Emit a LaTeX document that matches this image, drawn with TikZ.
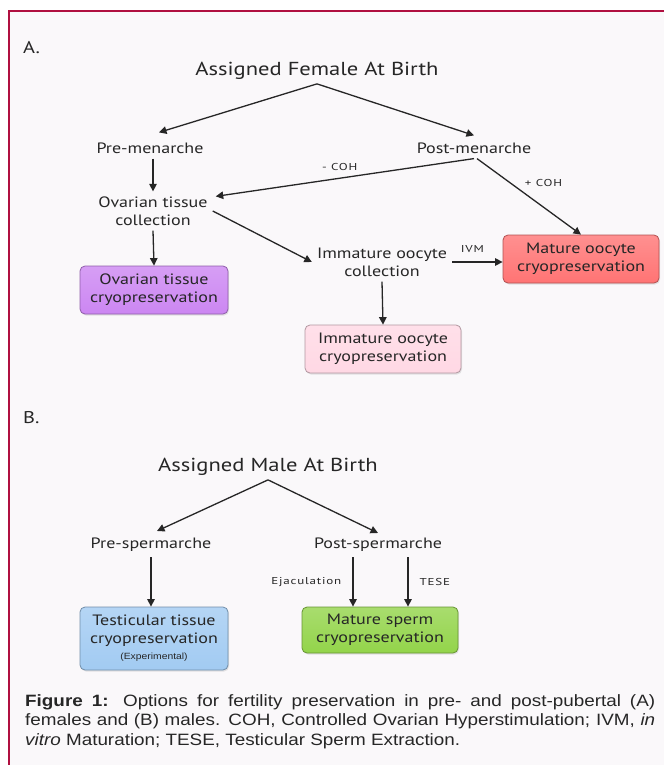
\documentclass[tikz,border=0pt]{standalone}
\usepackage{fontspec}
\usetikzlibrary{arrows.meta,shadows}
\newfontfamily\diagfont{PT Sans}[FakeStretch=1.2]
\newfontfamily\tagfont{PT Sans}[FakeStretch=1.3,LetterSpace=8]
\newfontfamily\capfont{Liberation Sans}[FakeStretch=1.15]
\definecolor{framered}{HTML}{B01040}
\definecolor{panelbg}{HTML}{FAF8FA}
\definecolor{ovpurple}{HTML}{CC86F2}
\definecolor{matred}{HTML}{FF7474}
\definecolor{immpink}{HTML}{FFD8E4}
\definecolor{testblue}{HTML}{A2CBF2}
\definecolor{spermgreen}{HTML}{93D44A}
\definecolor{inkgray}{HTML}{262626}

\begin{document}
\begin{tikzpicture}[x=1pt,y=-1pt,
    lbl/.style={font=\diagfont\fontsize{15}{18}\selectfont,text=inkgray,inner sep=5pt,align=center},
    head/.style={font=\diagfont\fontsize{18.8}{22}\selectfont,text=inkgray,inner sep=4pt},
    tag/.style={font=\tagfont\fontsize{10}{12}\selectfont,text=inkgray,inner sep=0pt},
    box/.style={draw=#1!70!black,top color=#1!80!white,bottom color=#1,rounded corners=5pt,line width=0.8pt,
      align=center,font=\diagfont\fontsize{15}{18}\selectfont,text=inkgray,inner sep=2pt,
      minimum width=156pt,minimum height=48pt,
      drop shadow={opacity=0.2,shadow xshift=1pt,shadow yshift=-1.5pt}},
    arr/.style={-{Triangle[length=7.5pt,width=7.5pt]},line width=1.3pt,draw=inkgray}]
  \useasboundingbox (0,0) rectangle (664,765);
  \fill[white] (0,0) rectangle (664,765);
  \fill[panelbg] (9,11) rectangle (664,765);
  \draw[framered,line width=1.2pt] (664,11) -- (9,11) -- (9,765);

  % A. female
  \node[lbl,inner sep=0pt,anchor=west,font=\diagfont\fontsize{17}{20}\selectfont] (secA) at (23,48) {A.};
  \node[head] (fem) at (317,71) {Assigned Female At Birth};
  \node[lbl] (pre) at (150,148) {Pre-menarche};
  \node[lbl] (post) at (474,148) {Post-menarche};
  \node[lbl] (otc) at (153,211) {Ovarian tissue\\collection};
  \node[box=ovpurple,minimum width=148pt] (otcryo) at (154,290) {Ovarian tissue\\cryopreservation};
  \node[lbl] (imc) at (382,262) {Immature oocyte\\collection};
  \node[box=matred] (matoo) at (581,259) {Mature oocyte\\cryopreservation};
  \node[box=immpink] (imcryo) at (383,349) {Immature oocyte\\cryopreservation};

  \draw[arr] (fem.south) -- ([xshift=9pt,yshift=5pt]pre.north);
  \draw[arr] (fem.south) -- ([yshift=2pt]post.north);
  \draw[arr] (otc.north |- pre.south) -- (otc.north);
  \draw[arr] (post.south) -- node[tag,pos=0.52,above=7pt]{- COH} ([shift={(3pt,-5pt)}]otc.north east);
  \draw[arr] ([xshift=3pt]post.south) -- node[tag,pos=0.32,right=14pt]{+ COH} (matoo.north);
  \draw[arr] (otc.east) -- (imc.west);
  \draw[arr] (otc.south) -- (otcryo.north);
  \draw[arr] (imc.east) -- node[tag,pos=0.4,above=9pt]{IVM} (imc.east -| matoo.west);
  \draw[arr] (imc.south) -- (imcryo.north);

  % B. male
  \node[lbl,inner sep=0pt,anchor=west,font=\diagfont\fontsize{17}{20}\selectfont] (secB) at (23,418) {B.};
  \node[head] (male) at (268,467) {Assigned Male At Birth};
  \node[lbl] (prs) at (151,545) {Pre-spermarche};
  \node[lbl] (pos) at (378,545) {Post-spermarche};
  \node[box=testblue,minimum width=148pt,minimum height=63pt] (testis) at (154,638.5)
    {Testicular tissue\\cryopreservation\\[-2pt]{\capfont\fontsize{9}{11}\selectfont(Experimental)}};
  \node[box=spermgreen,minimum height=46pt] (sperm) at (380,630) {Mature sperm\\cryopreservation};

  \draw[arr] (male.south) -- ([xshift=6pt,yshift=2pt]prs.north);
  \draw[arr] (male.south) -- (pos.north);
  \draw[arr] (prs.south) -- (prs.south |- testis.north);
  \draw[arr] ([xshift=-25pt]pos.south) -- node[tag,left=11pt]{Ejaculation} ([xshift=-25pt]pos.south |- sperm.north);
  \draw[arr] ([xshift=30pt]pos.south) -- node[tag,right=11pt]{TESE} ([xshift=30pt]pos.south |- sperm.north);

  % caption
  \node[anchor=north west,inner sep=0pt,text width=630pt,align=justify,text=inkgray,
    font=\capfont\fontsize{16.4}{19.5}\selectfont] (cap) at (25,694)
    {\textbf{Figure 1:} Options for fertility preservation in pre- and post-pubertal (A)\linebreak
     females and (B) males. COH, Controlled Ovarian Hyperstimulation; IVM, \textit{in}\linebreak
     \textit{vitro} Maturation; TESE, Testicular Sperm Extraction.};
\end{tikzpicture}
\end{document}
